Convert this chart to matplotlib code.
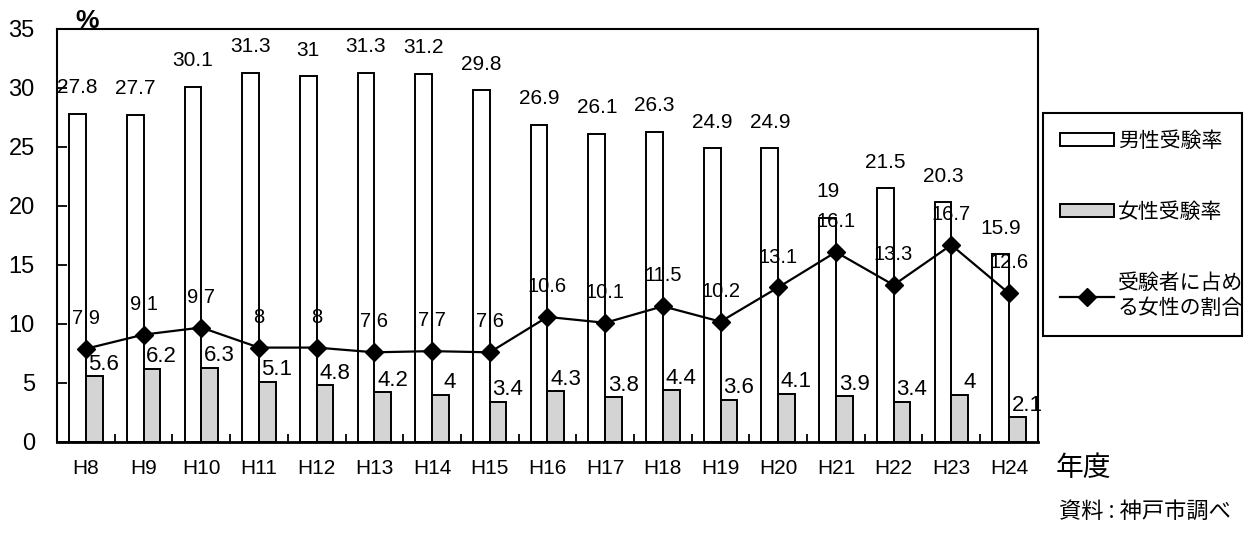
import matplotlib
matplotlib.use("Agg")
import matplotlib.pyplot as plt
import numpy as np
from matplotlib.patches import Patch
from matplotlib.lines import Line2D

plt.rcParams['font.family'] = ['Liberation Sans', 'Noto Sans CJK JP', 'DejaVu Sans']

# data
years = ['H8', 'H9', 'H10', 'H11', 'H12', 'H13', 'H14', 'H15', 'H16',
         'H17', 'H18', 'H19', 'H20', 'H21', 'H22', 'H23', 'H24']
male_rate = [27.8, 27.7, 30.1, 31.3, 31, 31.3, 31.2, 29.8, 26.9,
             26.1, 26.3, 24.9, 24.9, 19, 21.5, 20.3, 15.9]
female_rate = [5.6, 6.2, 6.3, 5.1, 4.8, 4.2, 4, 3.4, 4.3,
               3.8, 4.4, 3.6, 4.1, 3.9, 3.4, 4, 2.1]
female_share = [7.9, 9.1, 9.7, 8, 8, 7.6, 7.7, 7.6, 10.6,
                10.1, 11.5, 10.2, 13.1, 16.1, 13.3, 16.7, 12.6]

jp = 'Noto Sans CJK JP'
grey = '#d4d4d4'

fig = plt.figure(figsize=(12.51, 5.34), dpi=100)
ax = fig.add_axes([0.0456, 0.1723, 0.784, 0.7734])

x = np.arange(len(years))
w = 0.29
ax.bar(x - w / 2, male_rate, width=w, color='white', edgecolor='black', linewidth=1.4, zorder=2)
ax.bar(x + w / 2, female_rate, width=w, color=grey, edgecolor='black', linewidth=1.4, zorder=2)
ax.plot(x, female_share, color='black', linewidth=1.6, marker='D', markersize=9, zorder=3)

# value labels
for i in range(len(years)):
    ax.annotate(f"{male_rate[i]:g}", (x[i] - w / 2, male_rate[i]), xytext=(0, 12),
                textcoords='offset points', ha='center', va='bottom', fontsize=15, zorder=4)
    ax.annotate(f"{female_rate[i]:g}", (x[i] + w / 2, female_rate[i]), xytext=(7, 1),
                textcoords='offset points', ha='center', va='bottom', fontsize=16, zorder=4)
    ax.annotate(f"{female_share[i]:g}", (x[i], female_share[i]), xytext=(0, 15),
                textcoords='offset points', ha='center', va='bottom', fontsize=14.5, zorder=4)

ax.set_xlim(-0.5, len(years) - 0.5)
ax.set_ylim(0, 35)
ax.set_yticks(np.arange(0, 36, 5))
ax.tick_params(axis='y', direction='in', length=7, width=1.3, labelsize=17, pad=16)
ax.set_xticks(x)
ax.set_xticklabels(years)
ax.tick_params(axis='x', length=0, labelsize=15, pad=12)
ax.set_xticks(np.arange(-0.5, len(years), 1), minor=True)
ax.tick_params(axis='x', which='minor', direction='in', length=6, width=1.3)

for s in ax.spines.values():
    s.set_linewidth(1.5)
ax.spines['bottom'].set_linewidth(2)

fig.text(87 / 1251, 1 - 21 / 534, '%', fontsize=19, fontweight='bold', ha='center', va='center')
fig.text(1083 / 1251, 1 - 468 / 534, '年度', fontsize=20, family=jp, ha='center', va='center')
fig.text(1145 / 1251, 1 - 511 / 534, '資料 : 神戸市調べ', fontsize=16, family=jp, ha='center', va='center')

handles = [
    Patch(facecolor='white', edgecolor='black', linewidth=1.4),
    Patch(facecolor=grey, edgecolor='black', linewidth=1.4),
    Line2D([0], [0], color='black', linewidth=1.6, marker='D', markersize=9),
]
labels = ['男性受験率', '女性受験率', '受験者に占め\nる女性の割合']
top = 1 - 113 / 534
h = 220 / 534
leg = fig.legend(handles, labels, loc='upper left',
                 bbox_to_anchor=(1043 / 1251, top - h, 199 / 1251, h), mode='expand',
                 frameon=True, fancybox=False, edgecolor='black', framealpha=1,
                 prop={'family': jp, 'size': 15}, handlelength=2.6, handleheight=0.55,
                 handletextpad=0.2, labelspacing=2.35, borderpad=0.8, borderaxespad=0)
leg.get_frame().set_linewidth(1.5)

fig.savefig('out.png', dpi=100)
